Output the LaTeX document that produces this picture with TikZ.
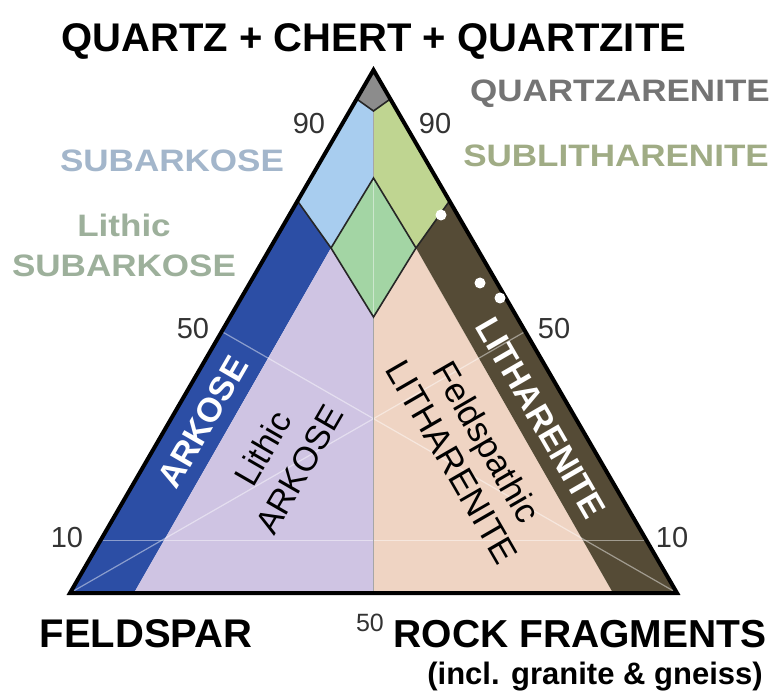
\documentclass[tikz,border=0pt]{standalone}
\usepackage{fontspec}
\usetikzlibrary{calc}
\setmainfont{Liberation Sans}
\definecolor{qgrey}{HTML}{8C8C8C}
\definecolor{lblue}{HTML}{A8CDEF}
\definecolor{olivel}{HTML}{BFD591}
\definecolor{dgreen}{HTML}{A3D5A4}
\definecolor{dblue}{HTML}{2C4EA5}
\definecolor{lav}{HTML}{CFC4E3}
\definecolor{peach}{HTML}{EFD4C3}
\definecolor{brownb}{HTML}{554B36}
\definecolor{tquartz}{HTML}{747474}
\definecolor{tsublit}{HTML}{A0AC85}
\definecolor{tsubark}{HTML}{A3B6CB}
\definecolor{tlsub}{HTML}{9DB09B}
\definecolor{numgrey}{HTML}{333333}
\newcommand{\wideb}[1]{\scalebox{1.13}[1]{#1}}
\begin{document}
\begin{tikzpicture}[x=1pt,y=-1pt,
  edgeline/.style={draw=black!85, line width=1.6pt},
  midline/.style={draw=black!35, line width=0.8pt},
  faint/.style={draw=white, opacity=0.45, line width=1.2pt},
  bigbold/.style={inner sep=0pt, font=\bfseries\fontsize{40}{40}\selectfont},
  sidelab/.style={inner sep=0pt, font=\bfseries\fontsize{31}{31}\selectfont},
  num/.style={inner sep=0pt, text=numgrey, font=\fontsize{29}{29}\selectfont},
  dot/.style={circle, fill=white, inner sep=0pt, minimum size=11pt}
]
\useasboundingbox (0,0) rectangle (774,700);
\fill[white] (0,0) rectangle (774,700);
% corner and boundary points
\coordinate (A) at (373.5,70);
\coordinate (B) at (70,593);
\coordinate (C) at (677,593);
\coordinate (M) at (373.5,593);
\coordinate (GL) at (356.7,99);
\coordinate (GR) at (390.3,99);
\coordinate (GB) at (373.5,111);
\coordinate (BL) at (297.5,201);
\coordinate (BR) at (449.5,201);
\coordinate (Dt) at (373.5,178);
\coordinate (Dl) at (331,248);
\coordinate (Db) at (373.5,317);
\coordinate (Dr) at (416,248);
\coordinate (Lb) at (134,593);
\coordinate (Rb) at (613,593);
% regions
\fill[qgrey] (A) -- (GL) -- (GB) -- (GR) -- cycle;
\fill[lblue] (GL) -- (GB) -- (Dt) -- (Dl) -- (BL) -- cycle;
\fill[olivel] (GR) -- (GB) -- (Dt) -- (Dr) -- (BR) -- cycle;
\fill[dgreen] (Dt) -- (Dl) -- (Db) -- (Dr) -- cycle;
\fill[dblue] (BL) -- (Dl) -- (Lb) -- (B) -- cycle;
\fill[lav] (Dl) -- (Db) -- (M) -- (Lb) -- cycle;
\fill[peach] (Dr) -- (Db) -- (M) -- (Rb) -- cycle;
\fill[brownb] (BR) -- (Dr) -- (Rb) -- (C) -- cycle;
% faint grid lines
\coordinate (mAB) at ($(A)!0.5!(B)$);
\coordinate (mAC) at ($(A)!0.5!(C)$);
\coordinate (q10l) at ($(B)!0.1!(A)$);
\coordinate (q10r) at ($(C)!0.1!(A)$);
\draw[faint] (B) -- (mAC);
\draw[faint] (C) -- (mAB);
\draw[faint] (GB) -- (M);
\draw[faint] (q10l) -- (q10r);
% internal boundaries
\draw[midline] (GB) -- (Dt);
\draw[midline] (Db) -- (M);
\draw[edgeline] (GL) -- (GB) -- (GR);
\draw[edgeline] (BL) -- (Dl);
\draw[edgeline] (BR) -- (Dr);
\draw[edgeline] (Dt) -- (Dl) -- (Db) -- (Dr) -- cycle;
% outline
\draw[black, line width=4pt, line join=miter] (A) -- (B) -- (C) -- cycle;
% artefact dots
\node[dot] (d1) at (441,215) {};
\node[dot] (d2) at (480,283) {};
\node[dot] (d3) at (500,298) {};
% titles
\node[bigbold, anchor=base] (title) at (374,52) {QUARTZ + CHERT + QUARTZITE};
\node[bigbold, anchor=base] (feld) at (146,647) {FELDSPAR};
\node[inner sep=0pt, font=\bfseries\fontsize{39}{39}\selectfont, anchor=base] (rock) at (580,647) {ROCK FRAGMENTS};
\node[inner sep=0pt, font=\bfseries\fontsize{31}{31}\selectfont, anchor=base] (incl) at (595,684) {(incl. granite \& gneiss)};
% side class labels
\node[sidelab, text=tquartz, anchor=base east] (lq) at (770,102) {\wideb{QUARTZARENITE}};
\node[sidelab, text=tsublit, anchor=base east] (lsl) at (769,167) {\wideb{SUBLITHARENITE}};
\node[sidelab, text=tsubark, anchor=base] (lsa) at (172,172) {\wideb{SUBARKOSE}};
\node[sidelab, text=tlsub, anchor=base] (llith) at (124,237) {\wideb{Lithic}};
\node[sidelab, text=tlsub, anchor=base] (llsa) at (124,277) {\wideb{SUBARKOSE}};
% tick numbers
\node[num] (n90l) at (309,124) {90};
\node[num] (n90r) at (435,124) {90};
\node[num] (n50l) at (193,329) {50};
\node[num] (n50r) at (554,329) {50};
\node[num] (n10l) at (67,538) {10};
\node[num] (n10r) at (672,538) {10};
\node[inner sep=0pt, text=numgrey, font=\fontsize{25}{25}\selectfont] (n50b) at (370,623) {50};
% rotated labels
\node[inner sep=0pt, text=white, rotate=60, font=\bfseries\fontsize{34}{34}\selectfont] (ark) at (203,422) {ARKOSE};
\node[inner sep=0pt, rotate=60, align=center, font=\fontsize{34}{42}\selectfont] (lark) at (281,459) {Lithic\\ARKOSE};
\node[inner sep=0pt, text=white, rotate=-60, font=\bfseries\fontsize{34}{34}\selectfont] (lit) at (541,418) {LITHARENITE};
\node[inner sep=0pt, rotate=-60, align=center, font=\fontsize{35}{40}\selectfont] (flit) at (470,452) {Feldspathic\\LITHARENITE};
\end{tikzpicture}
\end{document}
